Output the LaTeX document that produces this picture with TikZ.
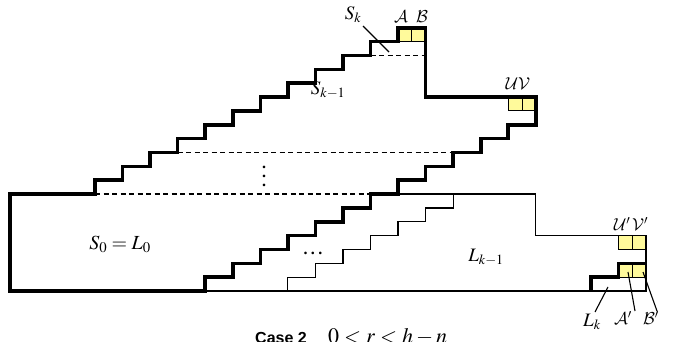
\documentclass[tikz,border=0pt]{standalone}
\usepackage{mathptmx}
\DeclareMathAlphabet{\mathcal}{OMS}{cmsy}{m}{n}
\usepackage{fontspec}
\newfontfamily\capfont{Liberation Sans}
\newfontfamily\dotfont{Liberation Serif}
\def\W{27.55}
\def\H{13.85}
\newcommand\gp[2]{({95+(#1)*\W},{291-(#2)*\H})}
\definecolor{boxyellow}{RGB}{255,250,155}
\tikzset{
  thk/.style={line width=3.6pt, line join=miter},
  thn/.style={line width=1.2pt},
  dsh/.style={line width=1.2pt, dash pattern=on 5pt off 3.5pt},
  ybox/.style={fill=boxyellow, draw=black, line width=0.9pt},
  lead/.style={line width=1.1pt},
  lbl/.style={inner sep=0pt, font=\fontsize{19}{21}\selectfont},
  biglbl/.style={inner sep=0pt, font=\fontsize{20}{22}\selectfont},
  cal/.style={inner sep=0pt, font=\fontsize{17}{19}\selectfont},
  dots/.style={inner sep=0pt, font=\dotfont\bfseries\fontsize{16}{9}\selectfont},
}
\begin{document}
\begin{tikzpicture}[x=1pt, y=-1pt]
\useasboundingbox (0,0) rectangle (675,342);

% yellow boxes
\draw[ybox] \gp{11}{19} rectangle \gp{11.5}{18};
\draw[ybox] \gp{11.5}{19} rectangle \gp{12}{18};
\draw[ybox] \gp{15}{14} rectangle \gp{15.5}{13};
\draw[ybox] \gp{15.5}{14} rectangle \gp{16}{13};
\draw[ybox] \gp{19}{4} rectangle \gp{19.5}{3};
\draw[ybox] \gp{19.5}{4} rectangle \gp{20}{3};
\draw[ybox] \gp{19}{2} rectangle \gp{19.5}{1};
\draw[ybox] \gp{19.5}{2} rectangle \gp{20}{1};

% dashed level lines
\draw[dsh] \gp{0}{7} -- \gp{10}{7};
\draw[dsh] \gp{3}{10} -- \gp{13}{10};
\draw[dsh] \gp{10}{17} -- \gp{12}{17};

% thin outline of L_{k-1}
\draw[thn] \gp{11}{7} -- \gp{16}{7} -- \gp{16}{4} -- \gp{20}{4} -- \gp{20}{0} -- \gp{4}{0};
% thin staircase
\draw[thn] \gp{7}{0} \foreach \i in {0,...,5}{ -- ++(0,-\H) -- ++(\W,0)} -- ++(0,-\H);

% thick main outline
\draw[thk] \gp{4}{0} -- (10,291) -- (10,{291-7*\H}) -- \gp{0}{7}
  \foreach \i in {0,...,10}{ -- ++(0,-\H) -- ++(\W,0)}
  -- ++(0,-\H) -- ++(\W,0) -- ++(0,5*\H) -- ++(4*\W,0) -- ++(0,2*\H) -- ++(-\W,0)
  \foreach \i in {0,...,10}{ -- ++(0,\H) -- ++(-\W,0)}
  -- cycle;

% thick L_k outline
\draw[thk] \gp{18}{0} -- \gp{18}{1} -- \gp{19}{1} -- \gp{19}{2} -- \gp{20}{2};

% labels
\node[lbl] (Sk) at (353,15) {$S_k$};
\node[cal] (A) at (401,17) {$\mathcal{A}$};
\node[cal] (B) at (422,17) {$\mathcal{B}$};
\node[lbl] (Skm) at (328,90) {$S_{k-1}$};
\node[cal] (UV) at (518,84) {$\mathcal{U}\mathcal{V}$};
\node[biglbl] (S0) at (120,244) {$S_0=L_0$};
\node[lbl] (Lkm) at (486,257) {$L_{k-1}$};
\node[cal] (UVp) at (631,224) {$\mathcal{U}'\,\mathcal{V}'$};
\node[lbl] (Lk) at (592,322) {$L_k$};
\node[cal] (Ap) at (623,318) {$\mathcal{A}'$};
\node[cal] (Bp) at (651,318) {$\mathcal{B}'$};
\node[dots] (vd) at (264,176) {\vbox{\baselineskip=9pt\lineskiplimit=-20pt\hbox{.}\hbox{.}\hbox{.}}};
\node[dots, anchor=base] (hd) at (313,254) {.\kern3.5pt.\kern3.5pt.};

% leader lines
\coordinate (skA) at (363,26);
\coordinate (skB) at (389,52);
\coordinate (lkA) at (595,312);
\coordinate (lkB) at (608,287);
\coordinate (apA) at (635,311);
\coordinate (apB) at (628,272);
\coordinate (bpA) at (657,311);
\coordinate (bpB) at (643,272);
\draw[lead] (skA) -- (skB);
\draw[lead] (lkA) -- (lkB);
\draw[lead] (apA) -- (apB);
\draw[lead] (bpA) -- (bpB);

% caption
\node[inner sep=0pt, anchor=base east, font=\capfont\bfseries\fontsize{16}{18}\selectfont] (cap) at (307,343) {Case 2};
\node[inner sep=0pt, anchor=base west, font=\fontsize{22}{24}\selectfont] (cond) at (328,343) {$0<r<h-n$};
\end{tikzpicture}
\end{document}
